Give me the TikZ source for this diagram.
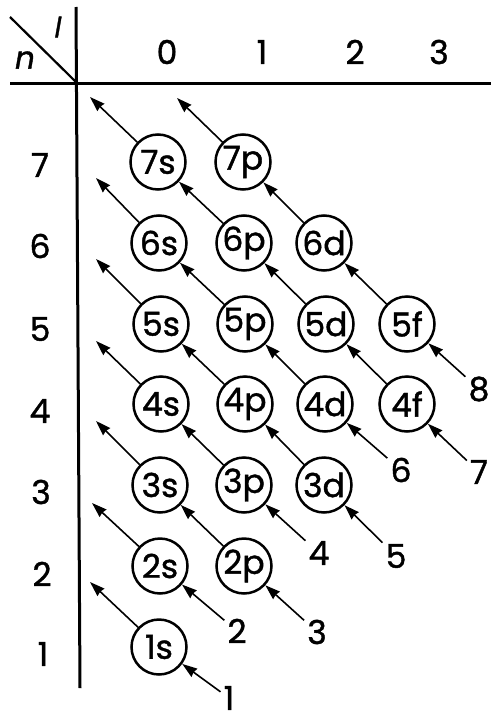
\documentclass[tikz,border=0pt]{standalone}
\usepackage{fontspec}
\setmainfont{Poppins}[FakeBold=1.2]
\usetikzlibrary{arrows.meta}
\begin{document}
\begin{tikzpicture}[x=1pt,y=-1pt,
  orb/.style={circle,draw,line width=2.5pt,minimum size=55pt,inner sep=0pt,font=\fontsize{33}{33}\selectfont},
  num/.style={inner sep=3pt,font=\fontsize{33}{33}\selectfont},
  ax/.style={inner sep=0pt,font=\fontsize{33}{33}\selectfont},
  arr/.style={line width=1.6pt,-{Stealth[length=15pt,width=10pt,inset=1pt]}},
  axis/.style={line width=3pt}]
\useasboundingbox (0,0) rectangle (491,720);
% axes
\coordinate (hl) at (10,83);
\coordinate (hr) at (491,83);
\coordinate (vt) at (76,7);
\coordinate (vb) at (80,688);
\coordinate (dg) at (10,17);
\coordinate (og) at (77,83);
\draw[axis] (hl) -- (hr);
\draw[axis] (vt) -- (vb);
\draw[line width=2.2pt] (dg) -- (og);
\node[ax,font=\itshape\fontsize{28}{28}\selectfont] (ll) at (58,27) {l};
\node[ax,font=\itshape\fontsize{31}{31}\selectfont] (nn) at (25,60) {n};
% column headers
\node[ax] (h0) at (167,52) {0};
\node[ax] (h1) at (262,52) {1};
\node[ax] (h2) at (355,52) {2};
\node[ax] (h3) at (439,52) {3};
% row labels
\node[ax] (r7) at (40,165) {7};
\node[ax] (r6) at (40,246) {6};
\node[ax] (r5) at (40,329) {5};
\node[ax] (r4) at (40,411) {4};
\node[ax] (r3) at (41,492) {3};
\node[ax] (r2) at (42,574) {2};
\node[ax] (r1) at (43,654) {1};
% orbitals
\node[orb] (o7s) at (158,162) {7s};
\node[orb] (o7p) at (243,162) {7p};
\node[orb] (o6s) at (159,243) {6s};
\node[orb] (o6p) at (244,243) {6p};
\node[orb] (o6d) at (324,243) {6d};
\node[orb] (o5s) at (161,324) {5s};
\node[orb] (o5p) at (245,324) {5p};
\node[orb] (o5d) at (326,324) {5d};
\node[orb] (o5f) at (407,324) {5f};
\node[orb] (o4s) at (161,404) {4s};
\node[orb] (o4p) at (245,404) {4p};
\node[orb] (o4d) at (325,404) {4d};
\node[orb] (o4f) at (407,404) {4f};
\node[orb] (o3s) at (160,485) {3s};
\node[orb] (o3p) at (244,485) {3p};
\node[orb] (o3d) at (324,485) {3d};
\node[orb] (o2s) at (160,566) {2s};
\node[orb] (o2p) at (244,566) {2p};
\node[orb] (o1s) at (159,647) {1s};
% start labels
\node[num] (l1) at (229,698) {1};
\node[num] (l2) at (237,631) {2};
\node[num] (l3) at (317,632) {3};
\node[num] (l4) at (319,553) {4};
\node[num] (l5) at (396,556) {5};
\node[num] (l6) at (401,470) {6};
\node[num] (l7) at (479,472) {7};
\node[num] (l8) at (479,389) {8};
% free ends
\coordinate (f1) at (90,582);
\coordinate (f2) at (92,503);
\coordinate (f3) at (96,421);
\coordinate (f4) at (96,341);
\coordinate (f5) at (96,259);
\coordinate (f6) at (96,178);
\coordinate (f7) at (90,97);
\coordinate (f8) at (177,98);
% arrows
\draw[arr] (l1) -- (o1s); \draw[arr] (o1s) -- (f1);
\draw[arr] (l2) -- (o2s); \draw[arr] (o2s) -- (f2);
\draw[arr] (l3) -- (o2p); \draw[arr] (o2p) -- (o3s); \draw[arr] (o3s) -- (f3);
\draw[arr] (l4) -- (o3p); \draw[arr] (o3p) -- (o4s); \draw[arr] (o4s) -- (f4);
\draw[arr] (l5) -- (o3d); \draw[arr] (o3d) -- (o4p); \draw[arr] (o4p) -- (o5s); \draw[arr] (o5s) -- (f5);
\draw[arr] (l6) -- (o4d); \draw[arr] (o4d) -- (o5p); \draw[arr] (o5p) -- (o6s); \draw[arr] (o6s) -- (f6);
\draw[arr] (l7) -- (o4f); \draw[arr] (o4f) -- (o5d); \draw[arr] (o5d) -- (o6p); \draw[arr] (o6p) -- (o7s); \draw[arr] (o7s) -- (f7);
\draw[arr] (l8) -- (o5f); \draw[arr] (o5f) -- (o6d); \draw[arr] (o6d) -- (o7p); \draw[arr] (o7p) -- (f8);
\end{tikzpicture}
\end{document}
